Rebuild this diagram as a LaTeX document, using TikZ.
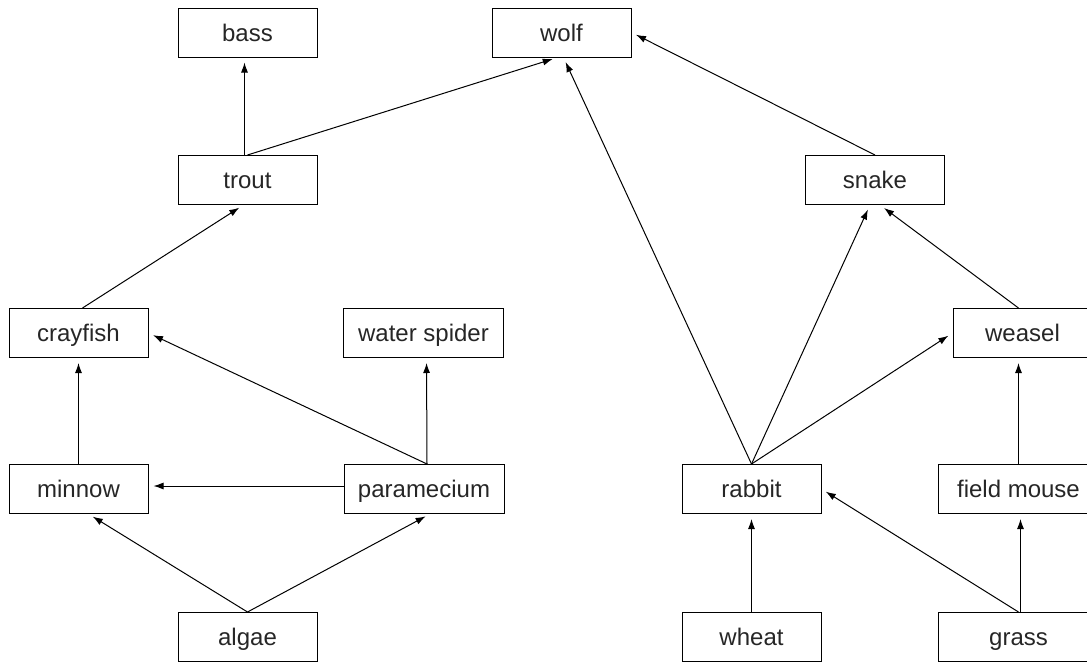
\documentclass[tikz,border=0pt]{standalone}
\usepackage{fontspec}
\setmainfont{Liberation Sans}
\usetikzlibrary{arrows.meta}

\begin{document}
\begin{tikzpicture}[x=1pt, y=-1pt, font=\fontsize{24}{28}\selectfont]
\tikzset{animal/.style={draw, line width=1pt, text centered, minimum width=139pt, minimum height=49pt, inner sep=0pt, text height=22pt, text depth=5pt, text=black!85}}
\tikzset{widebox/.style={animal, minimum width=160pt}}
\tikzset{>={Latex[width=7pt,length=10pt]}}
\tikzset{eats/.style={->, line width=1pt, shorten >=5pt}}
\useasboundingbox (0,0) rectangle (1087,662);
\clip (0,0) rectangle (1087,662);
% top rows
\node[animal] (bass)  at (247.5,32.5) {bass};
\node[animal] (wolf)  at (561.5,32.5) {wolf};
\node[animal] (trout) at (247.5,180)  {trout};
\node[animal] (snake) at (875,180)    {snake};
% middle rows
\node[animal]  (crayfish) at (78.5,333)   {crayfish};
\node[widebox] (spider)   at (423.5,333)  {water spider};
\node[animal]  (weasel)   at (1022.5,333) {weasel};
\node[animal]  (minnow)   at (78.5,489)   {minnow};
\node[widebox] (para)     at (424,489)    {paramecium};
\node[animal]  (rabbit)   at (751.5,489)  {rabbit};
\node[widebox] (mouse)    at (1018.5,489) {field mouse};
% bottom row
\node[animal]  (algae) at (247.5,637)  {algae};
\node[animal]  (wheat) at (751.5,637)  {wheat};
\node[widebox] (grass) at (1018.5,637) {grass};
% who eats whom
\draw[eats] ([xshift=-3pt]trout.north) -- ([xshift=-3pt]bass.south);
\draw[eats] (trout.north) -- ([xshift=-4pt]wolf.south);
\draw[eats] (snake.north) -- (wolf.east);
\draw[eats] (rabbit.north) -- ([xshift=2pt]wolf.south);
\draw[eats] ([xshift=4pt]crayfish.north) -- ([xshift=-4pt]trout.south);
\draw[eats] (minnow.north) -- (crayfish.south);
\draw[eats] ([xshift=3pt]para.north) -- (crayfish.east);
\draw[eats] ([xshift=3pt]para.north) -- ([xshift=3pt]spider.south);
\draw[eats] ([yshift=3pt]para.west) -- ([yshift=3pt]minnow.east);
\draw[eats] (algae.north) -- ([xshift=10pt]minnow.south);
\draw[eats] (algae.north) -- ([xshift=6pt]para.south);
\draw[eats] (rabbit.north) -- ([xshift=-5pt]snake.south);
\draw[eats] (rabbit.north) -- (weasel.west);
\draw[eats] ([xshift=-4pt]weasel.north) -- ([xshift=5pt]snake.south);
\draw[eats] (mouse.north) -- (mouse.north |- weasel.south);
\draw[eats] (wheat.north) -- (rabbit.south);
\draw[eats] (grass.north) -- (rabbit.east);
\draw[eats] ([xshift=2pt]grass.north) -- ([xshift=2pt]mouse.south);
\end{tikzpicture}
\end{document}
